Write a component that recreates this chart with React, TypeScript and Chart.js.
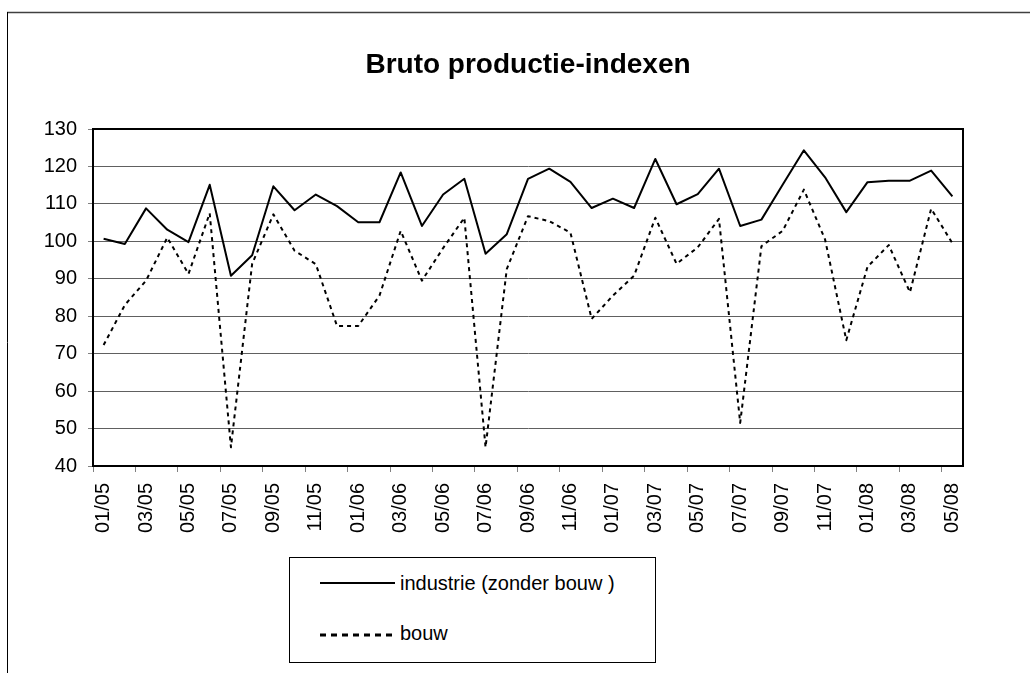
import { useEffect, useRef } from 'react';
import { Chart, registerables } from 'chart.js';

Chart.register(...registerables);

const FONT = "'Liberation Sans', Arial, Helvetica, sans-serif";

const chartTitle = 'Bruto productie-indexen';

const months = [
  '01/05', '02/05', '03/05', '04/05', '05/05', '06/05', '07/05', '08/05', '09/05', '10/05', '11/05', '12/05',
  '01/06', '02/06', '03/06', '04/06', '05/06', '06/06', '07/06', '08/06', '09/06', '10/06', '11/06', '12/06',
  '01/07', '02/07', '03/07', '04/07', '05/07', '06/07', '07/07', '08/07', '09/07', '10/07', '11/07', '12/07',
  '01/08', '02/08', '03/08', '04/08', '05/08',
];

const industrieLabel = 'industrie (zonder bouw )';
const industrie = [
  100.7, 99.3, 108.8, 103.1, 99.8, 115.1, 90.8, 96.3, 114.7, 108.3, 112.5, 109.4,
  105.1, 105.1, 118.4, 104.1, 112.5, 116.7, 96.7, 101.9, 116.7, 119.4, 115.9, 108.9,
  111.4, 108.9, 122.0, 109.9, 112.6, 119.4, 104.1, 105.8, 115.1, 124.3, 117.1, 107.8,
  115.8, 116.2, 116.2, 118.9, 112.0,
];

const bouwLabel = 'bouw';
const bouw = [
  72.3, 83.0, 89.5, 101.0, 91.3, 107.5, 45.0, 94.0, 107.2, 97.5, 93.9, 77.4,
  77.4, 85.5, 102.8, 89.5, 98.2, 106.3, 45.0, 92.6, 106.7, 105.4, 102.3, 79.3,
  85.5, 90.8, 106.3, 94.0, 98.4, 106.0, 51.5, 98.7, 102.8, 113.8, 100.5, 73.6,
  93.2, 99.0, 86.4, 108.7, 99.5,
];

const yMin = 40;
const yMax = 130;
const yStep = 10;

const framePlugin = {
  id: 'frame',
  beforeDraw(chart: any) {
    const ctx = chart.ctx;
    ctx.save();
    ctx.fillStyle = '#ffffff';
    ctx.fillRect(0, 0, chart.width, chart.height);
    ctx.strokeStyle = '#404040';
    ctx.lineWidth = 1.5;
    ctx.beginPath();
    ctx.moveTo(7, 12.5);
    ctx.lineTo(chart.width, 12.5);
    ctx.stroke();
    ctx.strokeStyle = '#000000';
    ctx.lineWidth = 1;
    ctx.beginPath();
    ctx.moveTo(7.5, 12);
    ctx.lineTo(7.5, chart.height);
    ctx.stroke();
    ctx.restore();
  },
  afterDraw(chart: any) {
    const { ctx, chartArea } = chart;
    ctx.save();
    ctx.strokeStyle = '#000000';
    ctx.lineWidth = 2;
    ctx.strokeRect(chartArea.left, chartArea.top, chartArea.right - chartArea.left, chartArea.bottom - chartArea.top);
    ctx.restore();
  },
};

function LegendLine({ dashed }: { dashed: boolean }) {
  return (
    <svg width={75} height={4} style={{ position: 'absolute', left: 30, top: 0, overflow: 'visible' }}>
      <line
        x1={0}
        y1={2}
        x2={75}
        y2={2}
        stroke="#000"
        strokeWidth={dashed ? 3 : 2}
        strokeDasharray={dashed ? '6 5' : undefined}
      />
    </svg>
  );
}

export default function App() {
  const canvasRef = useRef<HTMLCanvasElement | null>(null);

  useEffect(() => {
    if (!canvasRef.current) return;
    const chart = new Chart(canvasRef.current, {
      type: 'line',
      data: {
        labels: months,
        datasets: [
          {
            label: industrieLabel,
            data: industrie,
            borderColor: '#000000',
            backgroundColor: '#000000',
            borderWidth: 2,
            borderJoinStyle: 'round',
            pointRadius: 0,
            tension: 0,
            fill: false,
          },
          {
            label: bouwLabel,
            data: bouw,
            borderColor: '#000000',
            backgroundColor: '#000000',
            borderWidth: 2,
            borderJoinStyle: 'round',
            borderDash: [4, 4],
            pointRadius: 0,
            tension: 0,
            fill: false,
          },
        ],
      },
      options: {
        animation: false,
        responsive: false,
        maintainAspectRatio: false,
        layout: { padding: { top: 0, left: 0, right: 67, bottom: 0 } },
        plugins: {
          legend: { display: false },
          tooltip: { enabled: false },
          title: {
            display: true,
            fullSize: false,
            text: chartTitle,
            color: '#000000',
            font: { family: FONT, size: 28, weight: 'bold' },
            padding: { top: 48, bottom: 47.4 },
          },
        },
        scales: {
          x: {
            type: 'category',
            offset: true,
            afterFit: (scale: any) => {
              scale.height = 207;
            },
            grid: {
              display: true,
              offset: true,
              drawOnChartArea: false,
              drawTicks: true,
              tickLength: 6,
              tickWidth: 1,
              tickColor: (ctx: any) =>
                typeof ctx.index === 'number' && ctx.index % 2 === 0 ? '#808080' : 'rgba(0,0,0,0)',
            },
            border: { display: true, color: '#000000', width: 2 },
            ticks: {
              autoSkip: false,
              maxRotation: 90,
              minRotation: 90,
              padding: 11,
              color: '#000000',
              font: { family: FONT, size: 20 },
              callback: (_v: any, index: number) => (index % 2 === 0 ? months[index] : ''),
            },
          },
          y: {
            min: yMin,
            max: yMax,
            afterFit: (scale: any) => {
              scale.width = 93;
            },
            grid: {
              color: '#606060',
              lineWidth: 1,
              tickLength: 5,
              tickColor: '#808080',
            },
            border: { display: true, color: '#000000', width: 2 },
            ticks: {
              stepSize: yStep,
              padding: 11,
              color: '#000000',
              font: { family: FONT, size: 20 },
            },
          },
        },
      },
      plugins: [framePlugin],
    });
    return () => chart.destroy();
  }, []);

  const textStyle: any = {
    position: 'absolute',
    left: 110,
    fontFamily: FONT,
    fontSize: 20,
    lineHeight: '24px',
    color: '#000',
    whiteSpace: 'nowrap',
  };

  return (
    <div style={{ position: 'absolute', left: 0, top: 0, width: 1030, height: 673, overflow: 'hidden' }}>
      <canvas ref={canvasRef} width={1030} height={673} style={{ position: 'absolute', left: 0, top: 0 }} />
      <div
        style={{
          position: 'absolute',
          left: 289,
          top: 557,
          width: 367,
          height: 106,
          boxSizing: 'border-box',
          border: '1px solid #000',
          background: '#fff',
        }}
      >
        <div style={{ position: 'absolute', left: 0, top: 23, width: '100%', height: 4 }}>
          <LegendLine dashed={false} />
        </div>
        <div style={{ ...textStyle, top: 13 }}>{industrieLabel}</div>
        <div style={{ position: 'absolute', left: 0, top: 75, width: '100%', height: 4 }}>
          <LegendLine dashed={true} />
        </div>
        <div style={{ ...textStyle, top: 63 }}>{bouwLabel}</div>
      </div>
    </div>
  );
}
